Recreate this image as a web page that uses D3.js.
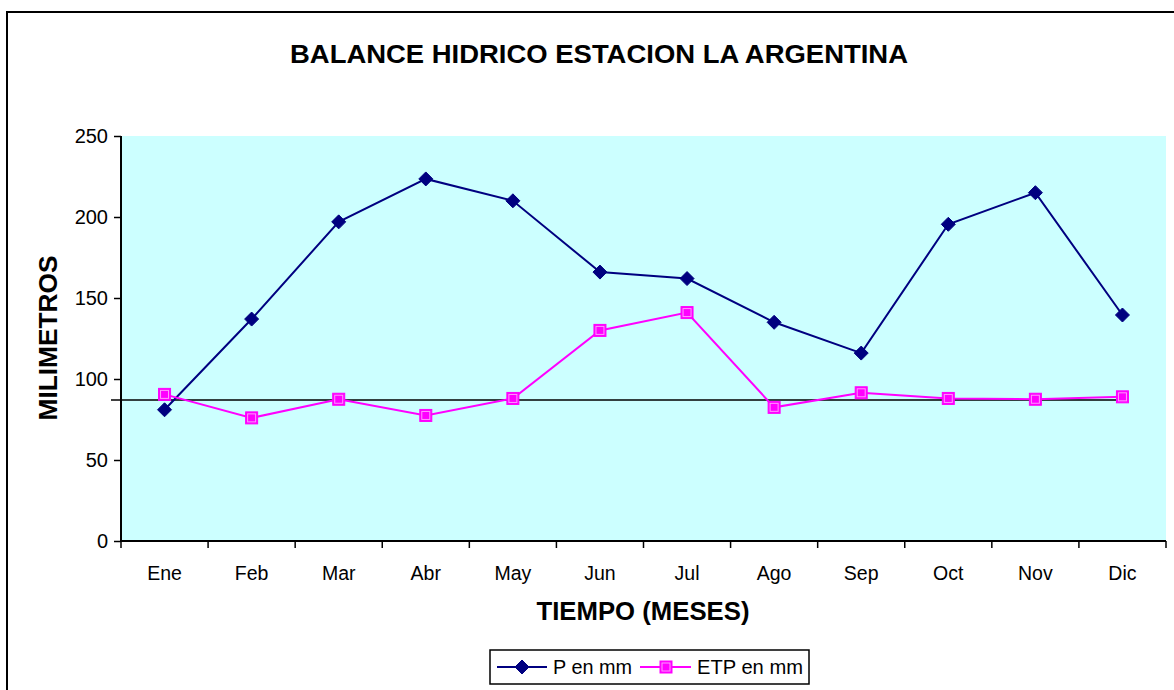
<!DOCTYPE html>
<html>
<head>
<meta charset="utf-8">
<script src="https://cdn.jsdelivr.net/npm/d3@7"></script>
<style>
  body { margin: 0; background: #fff; }
  svg { display: block; font-family: Arial, "Liberation Sans", sans-serif; }
</style>
</head>
<body>
<svg id="chart" width="1174" height="690"></svg>
<script>
const months = ["Ene","Feb","Mar","Abr","May","Jun","Jul","Ago","Sep","Oct","Nov","Dic"];
const pValues = [81, 137, 197, 223.5, 210, 166, 162, 135, 116, 195.5, 215, 139.5];
const etpValues = [90.5, 76, 87.5, 77.5, 88, 130, 141, 82.5, 91.5, 88, 87.5, 89];
const yTicks = [0, 50, 100, 150, 200, 250];
const refLine = 87;
const seriesNames = ["P en mm", "ETP en mm"];

(function () {
const svg = d3.select("#chart");
const pL = 121, pR = 1166, pT = 136, pB = 541;

// outer frame
svg.append("rect").attr("x", 7).attr("y", 12).attr("width", 1180).attr("height", 700)
  .attr("fill", "#fff").attr("stroke", "#000").attr("stroke-width", 2);

const x = d3.scaleBand().domain(months).range([pL, pR]).padding(0);
const y = d3.scaleLinear().domain([0, 250]).range([pB, pT]);

svg.append("rect").attr("x", pL).attr("y", pT).attr("width", pR - pL).attr("height", pB - pT)
  .attr("fill", "#CCFFFF");

// y axis
const yAxis = svg.append("g").attr("transform", `translate(${pL},0)`)
  .call(d3.axisLeft(y).tickValues(yTicks).tickSize(7).tickPadding(6).tickFormat(d3.format("d")));
yAxis.select(".domain").attr("stroke", "#000").attr("stroke-width", 2).attr("d", `M0,${pT}V${pB}`);
yAxis.selectAll(".tick line").attr("stroke", "#000").attr("stroke-width", 1.5);
yAxis.selectAll("text").attr("font-size", 20).attr("fill", "#000").attr("font-family", "Arial, 'Liberation Sans', sans-serif");

// x axis
const xAxis = svg.append("g").attr("transform", `translate(0,${pB})`);
xAxis.append("line").attr("x1", pL).attr("x2", pR).attr("y1", 0).attr("y2", 0).attr("stroke", "#000").attr("stroke-width", 2);
const bounds = months.map(m => x(m)).concat([pR]);
xAxis.selectAll(".xt").data(bounds).join("line")
  .attr("x1", d => d).attr("x2", d => d).attr("y1", 0).attr("y2", 7)
  .attr("stroke", "#000").attr("stroke-width", 1.5);
xAxis.selectAll(".xl").data(months).join("text")
  .attr("x", d => x(d) + x.bandwidth() / 2).attr("y", 39)
  .attr("text-anchor", "middle").attr("font-size", 19.5).text(d => d);

// reference line
svg.append("line")
  .attr("x1", pL - 10).attr("x2", x("Dic") + x.bandwidth() / 2 - 4)
  .attr("y1", y(refLine)).attr("y2", y(refLine))
  .attr("stroke", "#000").attr("stroke-width", 1.5);

const cx = d => x(d) + x.bandwidth() / 2;
const line = d3.line().x(d => cx(d.m)).y(d => y(d.v));
const pData = months.map((m, i) => ({ m, v: pValues[i] }));
const eData = months.map((m, i) => ({ m, v: etpValues[i] }));

svg.append("path").datum(pData).attr("d", line).attr("fill", "none").attr("stroke", "#000080").attr("stroke-width", 2);
svg.append("path").datum(eData).attr("d", line).attr("fill", "none").attr("stroke", "#FF00FF").attr("stroke-width", 2);

function diamond(g, px, py, s) {
  g.append("path").attr("d", `M${px},${py - s}L${px + s},${py}L${px},${py + s}L${px - s},${py}Z`)
    .attr("fill", "#000080").attr("stroke", "#000080").attr("stroke-width", 1);
}
function square(g, px, py, s) {
  g.append("rect").attr("x", px - s).attr("y", py - s).attr("width", 2 * s).attr("height", 2 * s)
    .attr("fill", "#FF00FF").attr("stroke", "#FF00FF").attr("stroke-width", 1);
  g.append("rect").attr("x", px - s + 2).attr("y", py - s + 2).attr("width", 2 * s - 4).attr("height", 2 * s - 4)
    .attr("fill", "none").attr("stroke", "#FF99FF").attr("stroke-width", 1);
}
const mk = svg.append("g");
pData.forEach(d => diamond(mk, cx(d.m), y(d.v), 7));
eData.forEach(d => square(mk, cx(d.m), y(d.v), 6));

// title & axis titles
svg.append("text").attr("x", 599).attr("y", 63).attr("text-anchor", "middle")
  .attr("font-size", 26).attr("font-weight", "bold")
  .attr("textLength", 618).attr("lengthAdjust", "spacingAndGlyphs")
  .text("BALANCE HIDRICO ESTACION LA ARGENTINA");
svg.append("text").attr("transform", `translate(57,338) rotate(-90)`).attr("text-anchor", "middle")
  .attr("font-size", 26).attr("font-weight", "bold")
  .attr("textLength", 165).attr("lengthAdjust", "spacingAndGlyphs")
  .text("MILIMETROS");
svg.append("text").attr("x", 643).attr("y", 620).attr("text-anchor", "middle")
  .attr("font-size", 26).attr("font-weight", "bold")
  .attr("textLength", 213).attr("lengthAdjust", "spacingAndGlyphs")
  .text("TIEMPO (MESES)");

// legend
const lg = svg.append("g");
lg.append("rect").attr("x", 490).attr("y", 650).attr("width", 319).attr("height", 34)
  .attr("fill", "#fff").attr("stroke", "#000").attr("stroke-width", 1.5);
const ly = 667;
lg.append("line").attr("x1", 497).attr("x2", 547).attr("y1", ly).attr("y2", ly).attr("stroke", "#000080").attr("stroke-width", 2);
diamond(lg, 522, ly, 7);
lg.append("text").attr("x", 553).attr("y", ly + 7).attr("font-size", 20)
  .attr("textLength", 79).attr("lengthAdjust", "spacingAndGlyphs").text(seriesNames[0]);
lg.append("line").attr("x1", 640).attr("x2", 691).attr("y1", ly).attr("y2", ly).attr("stroke", "#FF00FF").attr("stroke-width", 2);
square(lg, 666, ly, 6);
lg.append("text").attr("x", 697).attr("y", ly + 7).attr("font-size", 20)
  .attr("textLength", 106).attr("lengthAdjust", "spacingAndGlyphs").text(seriesNames[1]);
})();
</script>
</body>
</html>
